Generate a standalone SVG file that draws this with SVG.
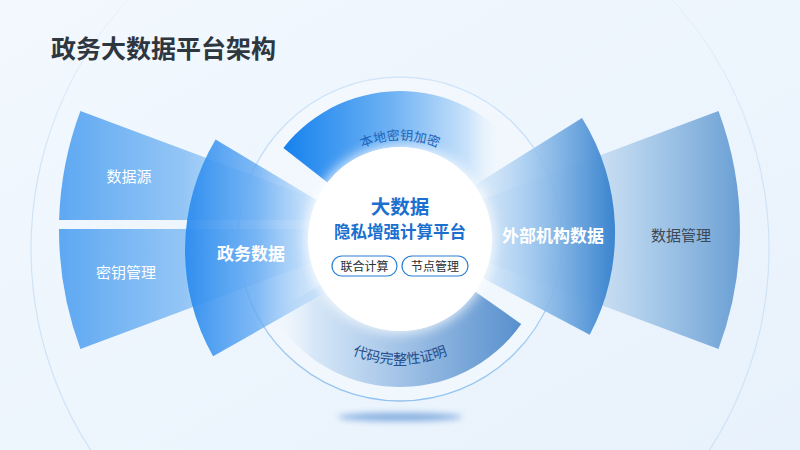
<svg xmlns="http://www.w3.org/2000/svg" width="800" height="450" viewBox="0 0 800 450">
  <defs>
    <linearGradient id="bg" x1="0" y1="0" x2="1" y2="1">
      <stop offset="0" stop-color="#f2f8fe"/>
      <stop offset="1" stop-color="#e8f2fc"/>
    </linearGradient>
    <linearGradient id="ringStroke" x1="0" y1="0" x2="0" y2="1">
      <stop offset="0" stop-color="#d3e6f9"/>
      <stop offset="1" stop-color="#92c2ef"/>
    </linearGradient>
    <linearGradient id="outerStroke" gradientUnits="userSpaceOnUse" x1="0" y1="0" x2="0" y2="450">
      <stop offset="0" stop-color="#cfe3f7" stop-opacity="0.2"/>
      <stop offset="0.4" stop-color="#cfe3f7"/>
      <stop offset="1" stop-color="#cfe3f7"/>
    </linearGradient>
    <linearGradient id="gLeft" gradientUnits="userSpaceOnUse" x1="60" y1="0" x2="335" y2="0">
      <stop offset="0" stop-color="#5ea8f2"/>
      <stop offset="0.45" stop-color="#8ec3f5" stop-opacity="0.95"/>
      <stop offset="0.8" stop-color="#c8e2fa" stop-opacity="0.7"/>
      <stop offset="1" stop-color="#e4f1fd" stop-opacity="0"/>
    </linearGradient>
    <linearGradient id="gGov" gradientUnits="userSpaceOnUse" x1="185" y1="0" x2="345" y2="0">
      <stop offset="0" stop-color="#2b8cef" stop-opacity="0.95"/>
      <stop offset="0.45" stop-color="#64aaf3" stop-opacity="0.8"/>
      <stop offset="1" stop-color="#cfe6fb" stop-opacity="0.25"/>
    </linearGradient>
    <linearGradient id="gExt" gradientUnits="userSpaceOnUse" x1="470" y1="0" x2="615" y2="0">
      <stop offset="0" stop-color="#cfe4f9" stop-opacity="0.45"/>
      <stop offset="0.35" stop-color="#a7cdf1" stop-opacity="0.85"/>
      <stop offset="1" stop-color="#3a84cf"/>
    </linearGradient>
    <linearGradient id="gMgmt" gradientUnits="userSpaceOnUse" x1="560" y1="0" x2="740" y2="0">
      <stop offset="0" stop-color="#c9def2" stop-opacity="0.5"/>
      <stop offset="0.5" stop-color="#a2c6e8" stop-opacity="0.9"/>
      <stop offset="1" stop-color="#6a9fd4"/>
    </linearGradient>
    <linearGradient id="gTop" gradientUnits="userSpaceOnUse" x1="284" y1="0" x2="500" y2="0">
      <stop offset="0" stop-color="#1682ee"/>
      <stop offset="0.5" stop-color="#6fb2f4"/>
      <stop offset="0.85" stop-color="#c9e2fa"/>
      <stop offset="1" stop-color="#eaf4fd" stop-opacity="0"/>
    </linearGradient>
    <linearGradient id="gBot" gradientUnits="userSpaceOnUse" x1="520" y1="0" x2="275" y2="0">
      <stop offset="0" stop-color="#5890cd"/>
      <stop offset="0.45" stop-color="#9cbfe5"/>
      <stop offset="0.85" stop-color="#d8e8f8"/>
      <stop offset="1" stop-color="#eef6fe" stop-opacity="0"/>
    </linearGradient>
    <filter id="glow" x="-50%" y="-50%" width="200%" height="200%">
      <feGaussianBlur stdDeviation="6"/>
    </filter>
    <filter id="soft" x="-50%" y="-200%" width="200%" height="500%">
      <feGaussianBlur stdDeviation="3"/>
    </filter>
    <path id="arcTop" d="M 314.3 189.5 A 99 99 0 0 1 485.7 189.5"/>
    <path id="arcBot" d="M 291.7 301.5 A 125 125 0 0 0 508.3 301.5"/>
    <style>
      .cjk { font-family: "Noto Sans CJK SC", "Noto Sans", sans-serif; }
      .lbl { fill: #ffffff; font-size: 15px; text-anchor: middle; }
      .lblb { fill: #ffffff; font-size: 17px; font-weight: bold; text-anchor: middle; }
      .pill { fill: #ffffff; stroke: #2a7fd6; stroke-width: 1.2; }
      .pilltxt { fill: #2b2f36; font-size: 12px; text-anchor: middle; }
      .core { fill: #1a6fcf; font-weight: bold; text-anchor: middle; }
    </style>
  </defs>

  <rect width="800" height="450" fill="url(#bg)"/>

  <!-- decorative outer circles -->
  <circle cx="400" cy="249" r="369" fill="none" stroke="url(#outerStroke)" stroke-width="1.2"/>
  <circle cx="400" cy="239" r="162" fill="#ffffff" fill-opacity="0.25" stroke="url(#ringStroke)" stroke-width="1.3"/>

  <text class="cjk" x="51" y="58" font-size="25" font-weight="bold" fill="#2e3640">政务大数据平台架构</text>

  <g id="node-datasource">
    <path d="M 373.1 220 L 80.4 111.1 A 341 341 0 0 0 59.1 220 Z" fill="url(#gLeft)"/>
    <text class="cjk lbl" x="129" y="181.7">数据源</text>
  </g>
  <g id="node-keymgmt">
    <path d="M 59 229 L 400 229 L 400 230 L 80.4 348.9 A 341 341 0 0 1 59 229 Z" fill="url(#gLeft)"/>
    <text class="cjk lbl" x="126" y="278">密钥管理</text>
  </g>
  <g id="node-datamgmt">
    <path d="M 400 230 L 718.5 111.1 A 340 340 0 0 1 718.5 348.9 Z" fill="url(#gMgmt)"/>
    <text class="cjk" x="681" y="240.7" font-size="15" fill="#3c4857" text-anchor="middle">数据管理</text>
  </g>
  <g id="node-localkey">
    <path d="M 283.4 147.9 A 148 148 0 0 1 525.5 160.6 L 478.0 190.2 A 92 92 0 0 0 327.5 182.4 Z" fill="url(#gTop)"/>
  </g>
  <g id="node-codeproof">
    <path d="M 521.2 323.9 A 148 148 0 0 1 271.8 313 L 320.3 285 A 92 92 0 0 0 475.4 291.8 Z" fill="url(#gBot)"/>
  </g>
  <g id="node-govdata">
    <path d="M 400 250 L 215.6 139.5 A 215 215 0 0 0 213.1 356.3 Z" fill="url(#gGov)"/>
    <text class="cjk lblb" x="251" y="259.5">政务数据</text>
  </g>
  <g id="node-extdata">
    <path d="M 398 233 L 582 118 A 217 217 0 0 1 589.7 334.8 Z" fill="url(#gExt)"/>
    <text class="cjk lblb" x="553" y="241.5">外部机构数据</text>
  </g>

  <g id="node-core">
    <circle cx="400" cy="239" r="95" fill="#ffffff" opacity="0.75" filter="url(#glow)"/>
    <circle cx="400" cy="239" r="92" fill="#ffffff"/>
    <text class="cjk core" x="400" y="214" font-size="19.5">大数据</text>
    <text class="cjk core" x="400" y="237.5" font-size="16.5">隐私增强计算平台</text>
  </g>

  <!-- curved arc labels -->
  <text class="cjk" font-size="13" fill="#1e64b8"><textPath href="#arcTop" startOffset="50%" text-anchor="middle">本地密钥加密</textPath></text>
  <text class="cjk" font-size="14" fill="#1f4f8e"><textPath href="#arcBot" startOffset="50%" text-anchor="middle">代码完整性证明</textPath></text>

  <g id="node-federated">
    <rect class="pill" x="332" y="256" width="65" height="20" rx="10"/>
    <text class="cjk pilltxt" x="364.5" y="270.5">联合计算</text>
  </g>
  <g id="node-nodemgmt">
    <rect class="pill" x="402" y="256" width="66" height="20" rx="10"/>
    <text class="cjk pilltxt" x="435" y="270.5">节点管理</text>
  </g>

  <ellipse cx="400" cy="417" rx="62" ry="4" fill="#3b7ccb" opacity="0.6" filter="url(#soft)"/>
</svg>
